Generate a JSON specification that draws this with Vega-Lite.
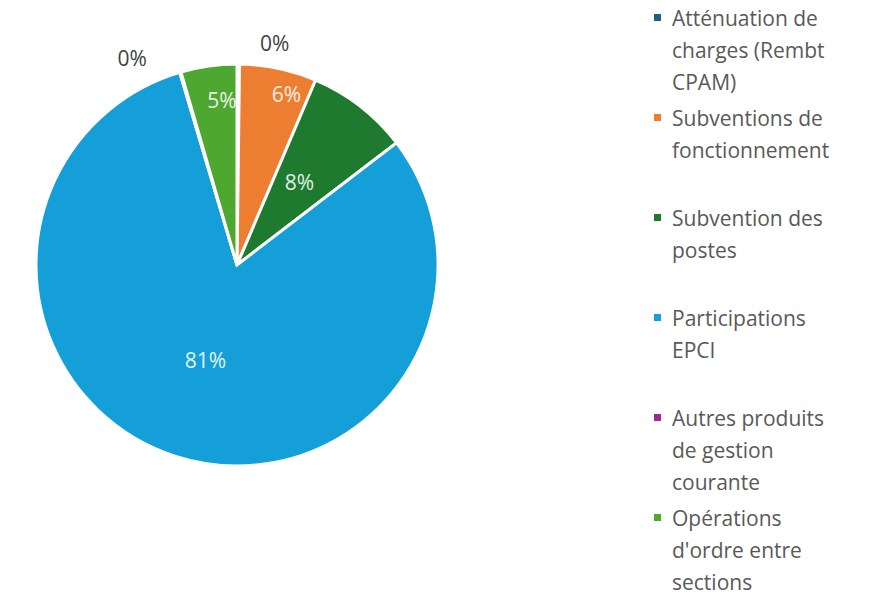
{
  "$schema": "https://vega.github.io/schema/vega-lite/v6.json",
  "width": 474,
  "height": 530,
  "padding": {"left": 0, "top": 0, "right": 0, "bottom": 62},
  "background": "white",
  "view": {"stroke": null},
  "data": {
    "values": [
      {"ordre": 1, "categorie": "Atténuation de charges  (Rembt CPAM)", "valeur": 0.2, "pct": "0%"},
      {"ordre": 2, "categorie": "Subventions de fonctionnement", "valeur": 6.2, "pct": "6%"},
      {"ordre": 3, "categorie": "Subvention des postes", "valeur": 8.2, "pct": "8%"},
      {"ordre": 4, "categorie": "Participations EPCI", "valeur": 80.8, "pct": "81%"},
      {"ordre": 5, "categorie": "Autres produits de gestion courante", "valeur": 0.1, "pct": "0%"},
      {"ordre": 6, "categorie": "Opérations d'ordre entre sections", "valeur": 4.5, "pct": "5%"}
    ]
  },
  "encoding": {
    "theta": {"field": "valeur", "type": "quantitative", "stack": true},
    "order": {"field": "ordre", "type": "quantitative"}
  },
  "layer": [
    {
      "mark": {"type": "arc", "outerRadius": 201, "stroke": "white", "strokeWidth": 3},
      "encoding": {
        "color": {
          "field": "categorie",
          "type": "nominal",
          "scale": {
            "domain": ["Atténuation de charges  (Rembt CPAM)", "Subventions de fonctionnement", "Subvention des postes", "Participations EPCI", "Autres produits de gestion courante", "Opérations d'ordre entre sections"],
            "range": ["#1F5F80", "#ED7D31", "#1E7A2E", "#149FD8", "#A0288F", "#4EA72E"]
          },
          "legend": {
            "title": null,
            "orient": "none",
            "legendX": 647,
            "legendY": 7,
            "padding": 0,
            "symbolType": "square",
            "symbolSize": 49,
            "symbolStrokeWidth": 0,
            "labelFont": "Open Sans",
            "labelFontSize": 21,
            "labelColor": "#595959",
            "labelOffset": 4,
            "labelBaseline": "top",
            "labelLimit": 300,
            "rowPadding": 13,
            "labelExpr": "datum.label == 'Atténuation de charges  (Rembt CPAM)' ? ['Atténuation de', 'charges  (Rembt', 'CPAM)'] : datum.label == 'Subventions de fonctionnement' ? ['Subventions de', 'fonctionnement', ' '] : datum.label == 'Subvention des postes' ? ['Subvention des', 'postes', ' '] : datum.label == 'Participations EPCI' ? ['Participations', 'EPCI', ' '] : datum.label == 'Autres produits de gestion courante' ? ['Autres produits', 'de gestion', 'courante'] : ['Opérations', \"d'ordre entre\", 'sections']"
          }
        }
      }
    },
    {
      "mark": {"type": "text", "radius": 102, "font": "Open Sans", "fontSize": 21, "color": "white", "opacity": 0.88},
      "encoding": {"text": {"condition": {"test": "datum.ordre == 3 || datum.ordre == 4", "field": "pct"}, "value": ""}}
    },
    {
      "mark": {"type": "text", "radius": 176, "thetaOffset": 0.077, "font": "Open Sans", "fontSize": 21, "color": "white", "opacity": 0.88},
      "encoding": {"text": {"condition": {"test": "datum.ordre == 2", "field": "pct"}, "value": ""}}
    },
    {
      "mark": {"type": "text", "radius": 164, "thetaOffset": 0.05, "font": "Open Sans", "fontSize": 21, "color": "white", "opacity": 0.88},
      "encoding": {"text": {"condition": {"test": "datum.ordre == 6", "field": "pct"}, "value": ""}}
    },
    {
      "mark": {"type": "text", "radius": 223, "thetaOffset": 0.164, "font": "Open Sans", "fontSize": 21, "color": "#404040"},
      "encoding": {"text": {"condition": {"test": "datum.ordre == 1", "field": "pct"}, "value": ""}}
    },
    {
      "mark": {"type": "text", "radius": 230, "thetaOffset": -0.187, "font": "Open Sans", "fontSize": 21, "color": "#404040"},
      "encoding": {"text": {"condition": {"test": "datum.ordre == 5", "field": "pct"}, "value": ""}}
    }
  ],
  "config": {
    "style": {"guide-label": {"lineHeight": 32, "dy": -9}}
  }
}
